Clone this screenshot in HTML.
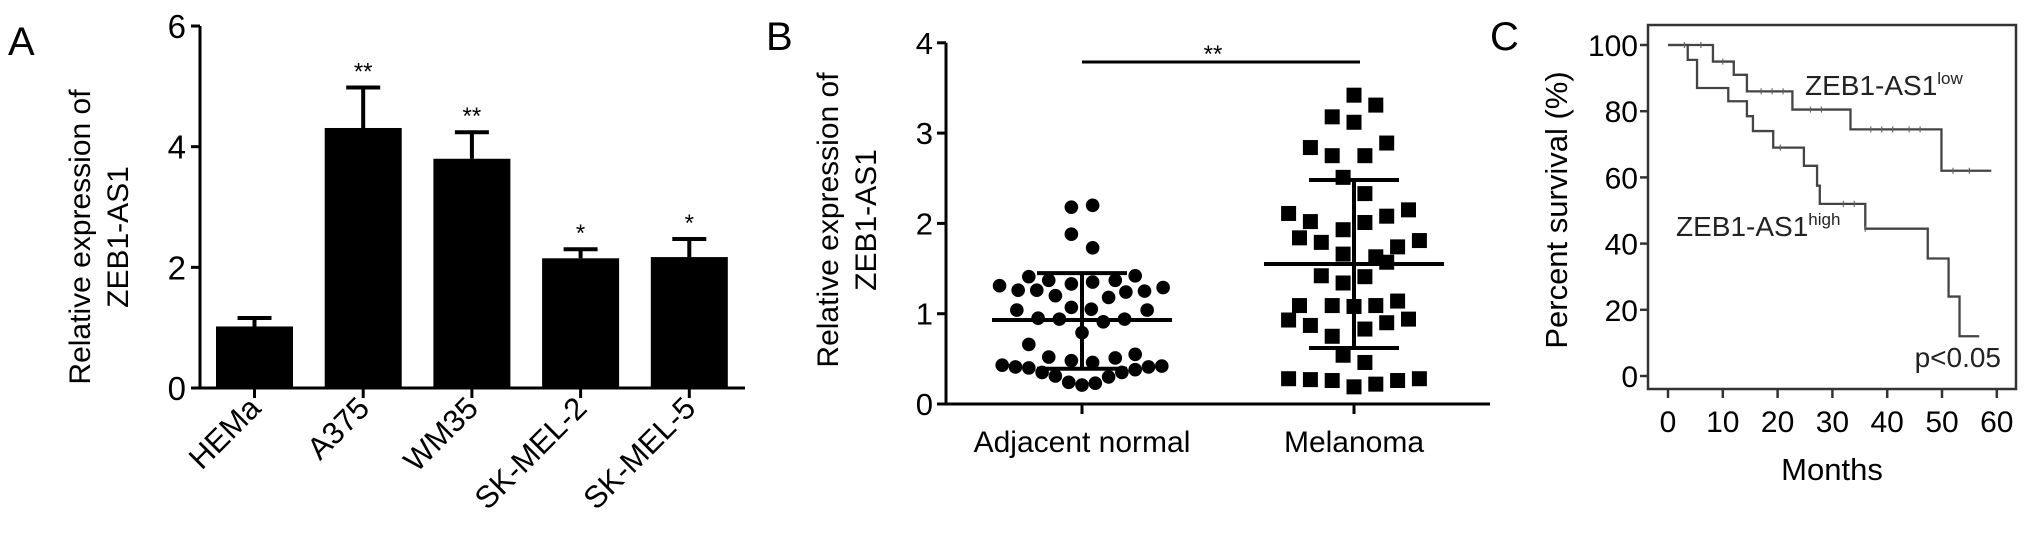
<!DOCTYPE html>
<html><head><meta charset="utf-8"><style>
html,body{margin:0;padding:0;background:#fff;}
svg{display:block;font-family:"Liberation Sans",Arial,sans-serif;}
</style></head><body>
<svg id="fig" width="2031" height="539" viewBox="0 0 2031 539" xmlns="http://www.w3.org/2000/svg">
<g id="pa"></g>
<g id="pb"></g>
<g id="pc"></g>
</svg>
<script>
// ---- Panel A data ----
const catsA = ["HEMa","A375","WM35","SK-MEL-2","SK-MEL-5"];
const meansA = [1.02, 4.31, 3.8, 2.15, 2.17];
const errA = [0.14, 0.67, 0.44, 0.15, 0.3];
const starsA = ["", "**", "**", "*", "*"];
const ticksA = [0, 2, 4, 6];
// ---- Panel B data ----
const groupsB = ["Adjacent normal","Melanoma"];
const ticksB = [0,1,2,3,4];
const normVals = [1.88,1.73,2.18,2.20,1.41,1.37,1.33,1.35,1.37,1.42,1.31,1.26,1.26,1.20,1.18,1.24,1.25,1.29,1.04,1.07,1.05,1.04,0.95,0.94,0.91,0.94,0.79,0.66,0.52,0.48,0.46,0.51,0.55,0.43,0.41,0.40,0.35,0.31,0.24,0.21,0.23,0.30,0.35,0.38,0.41,0.42];
const normSlots = [-0.8,0.8,-0.8,0.8,-4,-2.5,-0.8,0.8,2.5,4,-6.2,-4.8,-3.4,-2,2,3.3,4.7,6.1,-4.9,-0.8,0.7,4.9,-3.3,-1.7,1.6,3.2,0,-4,-2.5,-0.8,0.8,2.5,4,-6,-5,-4,-3,-2,-1,0,1,2,3,4,5,6];
const melVals = [3.42,3.31,3.18,3.12,2.89,2.84,2.75,2.75,2.51,2.33,2.11,2.02,2.08,2.15,1.93,2.01,1.84,1.79,1.81,1.74,1.66,1.63,1.57,1.42,1.34,1.41,1.09,1.09,1.08,1.09,1.14,0.93,0.87,0.90,0.94,0.83,0.75,0.54,0.46,0.28,0.27,0.26,0.19,0.22,0.26,0.28];
const melSlots = [0,2,-2,0,3,-4,-2,1,-1,1,-6,-4,3,5,-1,1,-5,-3,6,4,-1,2,3,-3,-1,1,-5,-2,0,2,4,-6,-4,3,5,1,-2,-1,1,-6,-4,-2,0,2,4,6];
const statsB = {normMean:0.93, normLo:0.39, normHi:1.45, melMean:1.55, melLo:0.62, melHi:2.48};
// ---- Panel C data ----
const ticksCy = [0,20,40,60,80,100];
const ticksCx = [0,10,20,30,40,50,60];
const lowT = [0,8.2,12,14.4,22.7,33.3,49.9,59];
const lowS = [100,95,91,86,80.5,74.5,62,62];
const highT = [0,3.6,5.3,11,14.4,15.5,19.2,24.8,27.2,27.7,36,47.4,51.2,53.2,56.8];
const highS = [100,95.5,87,83,78.5,74,69,63.5,57.5,52,44.5,35.5,24,12,12];
const lowCensor = [3,6,10,17,19,21,26,28,37,39,41,44,46,52,55];
const highCensor = [20.5,32,34,36];

const NS="http://www.w3.org/2000/svg";
function mk(parent, tag, attrs, text){
  const e=document.createElementNS(NS,tag);
  for(const k in attrs) e.setAttribute(k,attrs[k]);
  if(text!==undefined) e.textContent=text;
  parent.appendChild(e); return e;
}
function stepAt(T,S,t){let v=S[0];for(let i=0;i<T.length;i++){if(T[i]<=t)v=S[i];}return v;}

// ================= Panel A =================
(function(){
  const g=document.getElementById('pa');
  const y=v=>388-v*60.33, x0=200, pitch=108.7, firstC=254.5, bw=77;
  const cx=i=>firstC+i*pitch;
  let t=mk(g,'text',{x:8,y:55,'font-size':40},'A');
  
  
  const yt=mk(g,'text',{transform:'translate(90,237) rotate(-90)','text-anchor':'middle','font-size':30});
  
  
  mk(yt,'tspan',{x:0,dy:0},'Relative expression of');
  mk(yt,'tspan',{x:0,dy:38},'ZEB1-AS1');
  let ax=mk(g,'path',{d:`M${x0} ${y(6)}V${y(0)}H745`,stroke:'#000','stroke-width':3,fill:'none'});
  
  
  ticksA.forEach(v=>{
    mk(g,'line',{x1:x0-9,x2:x0,y1:y(v),y2:y(v),stroke:'#000','stroke-width':3});
    const tl=mk(g,'text',{x:x0-14,y:y(v)+12,'text-anchor':'end','font-size':33},String(v));
    
    
  });
  catsA.forEach((c,i)=>{
    const X=cx(i);
    const b=mk(g,'rect',{x:X-bw/2,y:y(meansA[i]),width:bw,height:y(0)-y(meansA[i]),fill:'#000'});
    
    
    const top=y(meansA[i]+errA[i]);
    const eb=mk(g,'path',{d:`M${X} ${y(meansA[i])}V${top}M${X-17} ${top}H${X+17}`,stroke:'#000','stroke-width':4,fill:'none'});
    
    
    if(starsA[i]){
      const s=mk(g,'text',{x:X,y:top-8,'text-anchor':'middle','font-size':24},starsA[i]);
      
      
    }
    mk(g,'line',{x1:X,x2:X,y1:y(0),y2:y(0)+10,stroke:'#000','stroke-width':3});
    const cl=mk(g,'text',{transform:`translate(${X+8},${y(0)+22}) rotate(-45)`,'text-anchor':'end','font-size':31},c);
    
    
  });
})();

// ================= Panel B =================
(function(){
  const g=document.getElementById('pb');
  const y=v=>404-v*90.3, x0=946, c1=1082, c2=1354;
  let t=mk(g,'text',{x:766,y:50,'font-size':40},'B');
  
  
  const yt=mk(g,'text',{transform:'translate(838,220) rotate(-90)','text-anchor':'middle','font-size':30});
  
  
  mk(yt,'tspan',{x:0,dy:0},'Relative expression of');
  mk(yt,'tspan',{x:0,dy:38},'ZEB1-AS1');
  let ax=mk(g,'path',{d:`M${x0} ${y(4)}V${y(0)}H1490`,stroke:'#000','stroke-width':3,fill:'none'});
  
  
  ticksB.forEach(v=>{
    mk(g,'line',{x1:x0-9,x2:x0,y1:y(v),y2:y(v),stroke:'#000','stroke-width':3});
    const tl=mk(g,'text',{x:x0-13,y:y(v)+11,'text-anchor':'end','font-size':31},String(v));
    
    
  });
  [c1,c2].forEach((X,i)=>{
    mk(g,'line',{x1:X,x2:X,y1:y(0),y2:y(0)+10,stroke:'#000','stroke-width':3});
    const l=mk(g,'text',{x:X,y:452,'text-anchor':'middle','font-size':30},groupsB[i]);
    
    
  });
  normVals.forEach((v,i)=>{
    const c=mk(g,'circle',{cx:c1+normSlots[i]*13.3,cy:y(v),r:6.8,fill:'#000'});
    
    
  });
  melVals.forEach((v,i)=>{
    const X=c2+melSlots[i]*10.9;
    const r=mk(g,'rect',{x:X-7.5,y:y(v)-7.5,width:15,height:15,fill:'#000'});
    
    
  });
  function summary(X,m,lo,hi,name){
    const p=mk(g,'path',{d:`M${X-90} ${y(m)}H${X+90}M${X} ${y(lo)}V${y(hi)}M${X-45} ${y(lo)}H${X+45}M${X-45} ${y(hi)}H${X+45}`,stroke:'#000','stroke-width':4,fill:'none'});
    
    
  }
  summary(c1,statsB.normMean,statsB.normLo,statsB.normHi,'mean-sd-normal');
  summary(c2,statsB.melMean,statsB.melLo,statsB.melHi,'mean-sd-melanoma');
  const sb=mk(g,'line',{x1:c1,x2:1360,y1:62,y2:62,stroke:'#000','stroke-width':3});
  
  
  const st=mk(g,'text',{x:1213,y:62,'text-anchor':'middle','font-size':24},'**');
  
  
})();

// ================= Panel C =================
(function(){
  const g=document.getElementById('pc');
  const y=v=>376-v*3.31, x=m=>1668+m*5.48;
  let t=mk(g,'text',{x:1490,y:50,'font-size':40},'C');
  
  
  const yt=mk(g,'text',{transform:'translate(1567,210) rotate(-90)','text-anchor':'middle','font-size':31},'Percent survival (%)');
  
  
  const box=mk(g,'rect',{x:1648,y:25,width:368,height:364,fill:'none',stroke:'#333','stroke-width':2.5});
  
  
  ticksCy.forEach(v=>{
    mk(g,'line',{x1:1640,x2:1648,y1:y(v),y2:y(v),stroke:'#333','stroke-width':2.5});
    const tl=mk(g,'text',{x:1638,y:y(v)+11,'text-anchor':'end','font-size':30},String(v));
    
    
  });
  ticksCx.forEach(v=>{
    mk(g,'line',{x1:x(v),x2:x(v),y1:389,y2:398,stroke:'#333','stroke-width':2.5});
    const tl=mk(g,'text',{x:x(v),y:432,'text-anchor':'middle','font-size':30},String(v));
    
    
  });
  const xt=mk(g,'text',{x:1832,y:480,'text-anchor':'middle','font-size':31},'Months');
  
  
  function curve(T,S,name){
    let d=`M${x(T[0])} ${y(S[0])}`;
    for(let i=1;i<T.length;i++){d+=`H${x(T[i])}V${y(S[i])}`;}
    const p=mk(g,'path',{d:d,stroke:'#444','stroke-width':2.3,fill:'none'});
    
    
  }
  curve(lowT,lowS,'survival-curve-low');
  curve(highT,highS,'survival-curve-high');
  lowCensor.forEach(m=>{const v=stepAt(lowT,lowS,m);
    const c=mk(g,'line',{x1:x(m),x2:x(m),y1:y(v)-3,y2:y(v)+3,stroke:'#666','stroke-width':1.2});
    
    });
  highCensor.forEach(m=>{const v=stepAt(highT,highS,m);
    const c=mk(g,'line',{x1:x(m),x2:x(m),y1:y(v)-3,y2:y(v)+3,stroke:'#666','stroke-width':1.2});
    
    });
  const l1=mk(g,'text',{x:1805,y:95,'font-size':28,fill:'#222'});
  
  
  mk(l1,'tspan',{},'ZEB1-AS1');
  mk(l1,'tspan',{dy:-11,'font-size':17},'low');
  const l2=mk(g,'text',{x:1676,y:236,'font-size':28,fill:'#222'});
  
  
  mk(l2,'tspan',{},'ZEB1-AS1');
  mk(l2,'tspan',{dy:-11,'font-size':17},'high');
  const pv=mk(g,'text',{x:2001,y:367,'text-anchor':'end','font-size':28,fill:'#222'},'p<0.05');
  
  
})();
</script>
</body></html>
